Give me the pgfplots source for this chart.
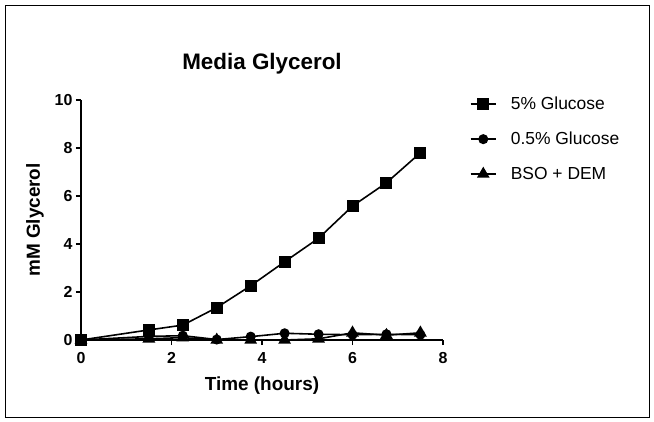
\documentclass[border=0pt]{standalone}
\usepackage{pgfplots}
\pgfplotsset{compat=1.18}
\usepackage{fontspec}
\setmainfont{Liberation Sans}
\begin{document}
\begin{tikzpicture}[x=1bp,y=1bp]
\begin{axis}[
  at={(0,0)}, anchor=origin,
  scale only axis, width=362bp, height=240bp,
  xmin=0, xmax=8, ymin=0, ymax=10,
  axis x line*=bottom, axis y line*=left,
  axis line style={line width=2pt,-},
  xtick={0,2,4,6,8}, ytick={0,2,4,6,8,10},
  tick align=outside, major tick length=5bp,
  tick style={line width=1.6pt,black},
  /pgf/number format/assume math mode=true,
  tick label style={font=\fontsize{16}{18}\selectfont\bfseries},
  xticklabel style={yshift=-4bp},
  title={Media Glycerol},
  title style={font=\fontsize{22.5}{26}\selectfont\bfseries, yshift=16bp},
  xlabel={Time (hours)},
  ylabel={mM Glycerol},
  label style={font=\fontsize{19}{22}\selectfont\bfseries},
  xlabel style={yshift=-6bp},
  ylabel style={yshift=4bp},
  clip=false,
  legend cell align=left,
  legend style={draw=none, at={(1.065,1.03)}, anchor=north west,
    font=\fontsize{17.5}{20}\selectfont, row sep=17bp,
    /tikz/every odd column/.append style={column sep=12bp}},
  legend image code/.code={
    \draw[line width=1.6pt,mark repeat=2,mark phase=2] plot coordinates {(0cm,0cm) (0.45cm,0cm) (0.9cm,0cm)};},
  every axis plot/.append style={line width=1.6pt, black},
]
\addplot[mark=square*, mark size=5.2bp, mark options={solid}] coordinates {
(0,0) (1.5,0.42) (2.25,0.62) (3,1.35) (3.75,2.26) (4.5,3.26) (5.25,4.24) (6,5.58) (6.75,6.55) (7.5,7.8)};
\addlegendentry{5\% Glucose}
\addplot[mark=*, mark size=4.2bp] coordinates {
(0,0) (1.5,0.15) (2.25,0.18) (3,0.02) (3.75,0.14) (4.5,0.28) (5.25,0.24) (6,0.22) (6.75,0.24) (7.5,0.22)};
\addlegendentry{0.5\% Glucose}
\addplot[mark=triangle*, mark size=5.8bp] coordinates {
(0,0) (1.5,0.05) (2.25,0.1) (3,0) (3.75,0) (4.5,0) (5.25,0.05) (6,0.3) (6.75,0.2) (7.5,0.3)};
\addlegendentry{BSO + DEM}
\end{axis}
\draw[line width=0.8pt] (-76,-77) rectangle (568,335);
\path[use as bounding box] (-81,-81) rectangle (573,340);
\end{tikzpicture}
\end{document}
